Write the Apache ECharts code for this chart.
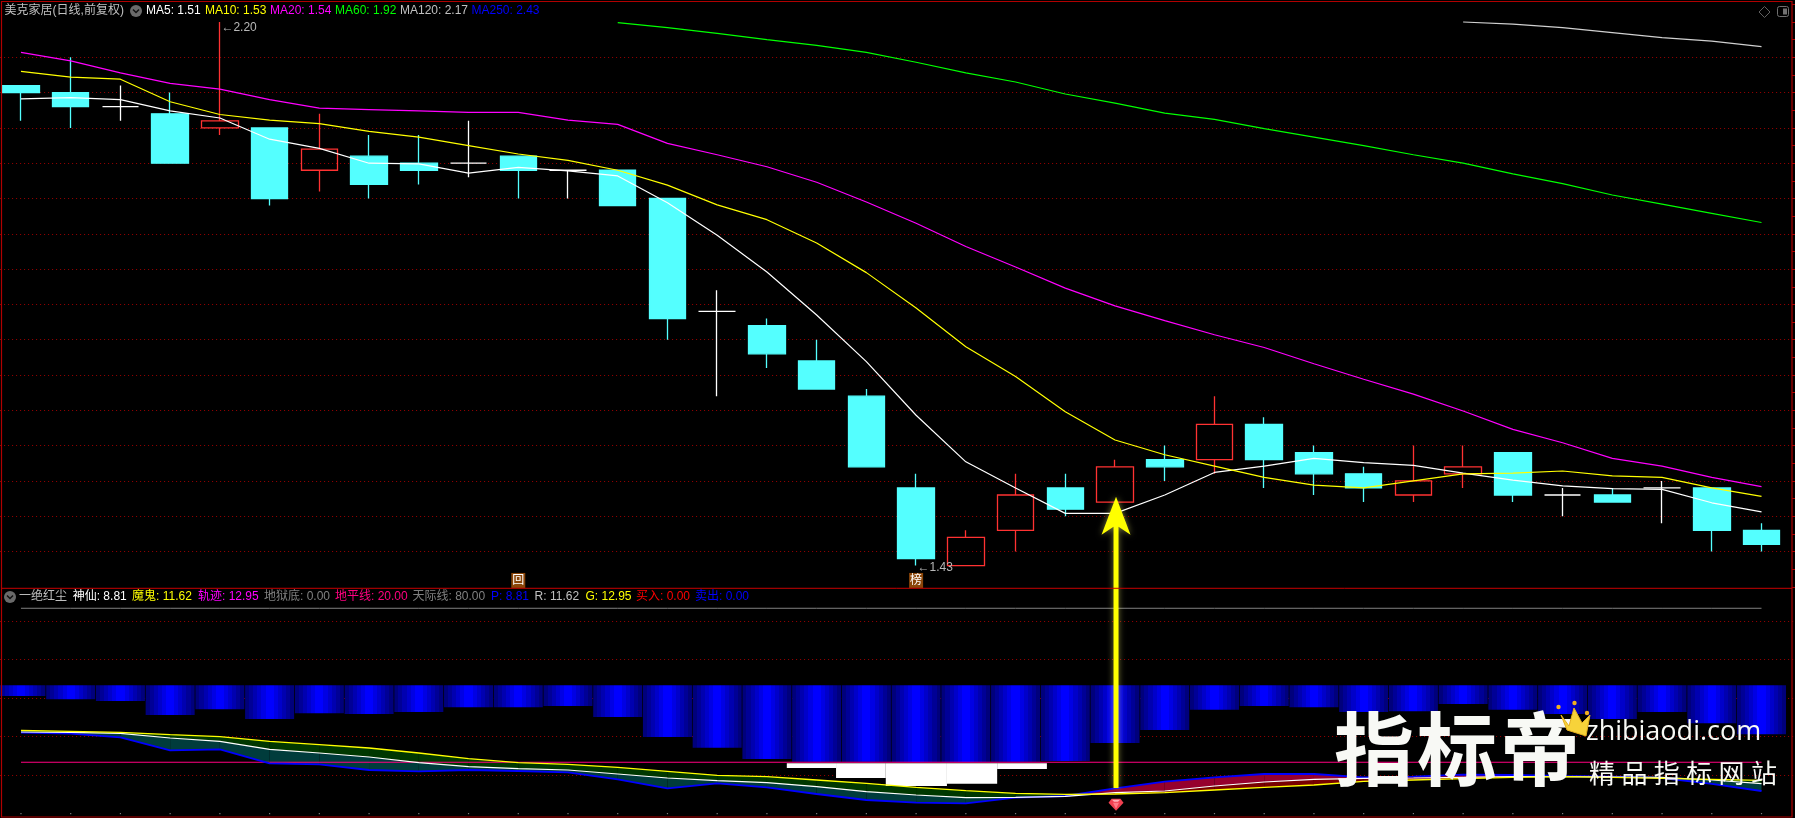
<!DOCTYPE html>
<html>
<head>
<meta charset="utf-8">
<style>html,body{margin:0;padding:0;background:#000}#c{width:1795px;height:818px}</style>
<script src="https://cdn.jsdelivr.net/npm/echarts@6/dist/echarts.min.js"></script>
</head>
<body>
<div id="c"></div>
<script>
// ---------- data ----------
const categories = ['D01','D02','D03','D04','D05','D06','D07','D08','D09','D10','D11','D12','D13','D14','D15','D16','D17','D18','D19','D20','D21','D22','D23','D24','D25','D26','D27','D28','D29','D30','D31','D32','D33','D34','D35','D36',''];
const opens  = [2.11,2.10,2.08,2.07,2.05,2.05,1.99,2.01,2.00,2.00,2.01,1.99,1.99,1.95,1.79,1.77,1.72,1.67,1.54,1.43,1.48,1.54,1.52,1.58,1.58,1.63,1.59,1.56,1.53,1.56,1.59,1.53,1.53,1.54,1.54,1.48];
const closes = [2.10,2.08,2.08,2.00,2.06,1.95,2.02,1.97,1.99,2.00,1.99,1.99,1.94,1.78,1.79,1.73,1.68,1.57,1.44,1.47,1.53,1.51,1.57,1.57,1.63,1.58,1.56,1.54,1.55,1.57,1.53,1.53,1.52,1.54,1.48,1.46];
const lows   = [2.06,2.05,2.06,2.00,2.04,1.94,1.96,1.95,1.97,1.98,1.95,1.95,1.94,1.75,1.67,1.71,1.68,1.57,1.43,1.43,1.45,1.50,1.52,1.55,1.56,1.54,1.53,1.52,1.52,1.54,1.52,1.50,1.52,1.49,1.45,1.45];
const highs  = [2.11,2.15,2.11,2.10,2.20,2.05,2.07,2.04,2.04,2.06,2.01,1.99,1.99,1.95,1.82,1.78,1.75,1.68,1.56,1.48,1.56,1.56,1.58,1.60,1.67,1.64,1.60,1.57,1.60,1.60,1.59,1.54,1.54,1.55,1.54,1.49];
const ma5  = [2.091,2.093,2.090,2.074,2.064,2.034,2.021,2.000,1.999,1.986,1.994,1.989,1.982,1.944,1.898,1.846,1.785,1.719,1.643,1.577,1.540,1.504,1.504,1.530,1.562,1.571,1.582,1.576,1.572,1.561,1.551,1.543,1.539,1.538,1.519,1.506];
const ma10 = [2.130,2.122,2.119,2.087,2.069,2.061,2.056,2.045,2.037,2.025,2.013,2.004,1.990,1.969,1.941,1.920,1.887,1.845,1.795,1.740,1.698,1.648,1.608,1.587,1.571,1.555,1.544,1.540,1.550,1.560,1.561,1.564,1.557,1.555,1.540,1.528];
const ma20 = [2.157,2.145,2.128,2.113,2.105,2.090,2.078,2.076,2.074,2.072,2.072,2.061,2.055,2.028,2.012,1.995,1.973,1.945,1.915,1.882,1.853,1.823,1.798,1.777,1.757,1.739,1.716,1.694,1.673,1.649,1.623,1.604,1.582,1.571,1.555,1.542];
const ma60 = [null,null,null,null,null,null,null,null,null,null,null,null,2.199,2.192,2.184,2.175,2.167,2.157,2.143,2.128,2.115,2.098,2.085,2.071,2.062,2.049,2.037,2.025,2.012,2.000,1.985,1.971,1.955,1.942,1.929,1.916];
const ma120 = [null,null,null,null,null,null,null,null,null,null,null,null,null,null,null,null,null,null,null,null,null,null,null,null,null,null,null,null,null,2.200,2.197,2.192,2.185,2.178,2.173,2.165];
const blueBottom = [45.8,44.6,43.9,38.4,40.7,36.9,39.1,38.8,39.6,41.4,41.4,41.9,37.6,29.8,25.7,21.3,20.2,20.2,20.1,20.1,20.2,20.5,27.5,32.6,40.5,41.9,41.4,39.6,39.9,42.7,40.5,38.8,36.9,39.6,35.2,30.9];
const lineG = [32.44,32.05,31.66,30.75,29.98,28.16,26.86,25.56,23.61,21.40,19.85,19.20,18.03,16.47,14.91,14.39,13.09,11.79,10.24,8.94,7.90,7.51,7.64,8.16,9.20,10.24,11.15,12.57,13.09,13.61,14.13,14.39,14.13,13.74,13.35,12.96];
const lineR = [31.79,31.66,31.27,29.46,28.16,25.04,23.61,22.05,19.85,18.29,17.51,16.99,15.43,13.87,12.84,12.06,10.50,8.55,7.25,6.21,6.34,6.73,8.16,8.81,10.76,12.32,13.35,13.74,13.87,14.13,14.39,14.39,14.26,14.13,13.09,11.67];
const lineP = [31.53,31.14,29.72,24.65,25.04,19.59,19.20,16.99,16.47,16.99,16.60,16.08,13.35,9.85,11.79,10.24,7.64,5.30,4.26,4.01,6.21,6.86,9.85,12.44,14.13,15.43,15.43,14.13,14.39,15.17,15.04,14.65,14.39,13.87,11.54,8.81];
const horizon = Array(36).fill(20);
const skyline = Array(36).fill(80);
const hellLine = Array(36).fill(0);
// white blocks: [from candle position, to candle position, lower value]
const whiteBlocks = [[15.40,16.39,17.76],[16.39,17.39,13.87],[17.39,18.62,10.75],[18.62,19.63,11.6],[19.63,20.63,17.37]];
const priceGrid = [1.45,1.50,1.55,1.60,1.65,1.70,1.75,1.80,1.85,1.90,1.95,2.00,2.05,2.10,2.15];
const indicatorGrid = [15,30,45,60,75];
const legendTop = [
  ['MA5: 1.51',146,'#ffffff'],['MA10: 1.53',205,'#ffff00'],['MA20: 1.54',270,'#ff00ff'],
  ['MA60: 1.92',335,'#00ff00'],['MA120: 2.17',400,'#c0c0c0'],['MA250: 2.43',471.5,'#0000ff']];
const legendBottom = [
  ['神仙: 8.81',72.7,'#ffffff'],['魔鬼: 11.62',132,'#ffff00'],['轨迹: 12.95',198,'#ff00ff'],
  ['地狱底: 0.00',264,'#808080'],['地平线: 20.00',335,'#ff0080'],['天际线: 80.00',412.5,'#808080'],
  ['P: 8.81',491,'#0000ff'],['R: 11.62',534.6,'#c0c0c0'],['G: 12.95',585.5,'#ffff00'],
  ['买入: 0.00',636,'#ff0000'],['卖出: 0.00',695,'#0000ff']];
const arrowSpec = [[22,1.5276,1.115]];
const gemSpec = [[22,3.4]];

// ---------- styling ----------
const FONT = '"Liberation Sans","Noto Sans CJK SC",sans-serif';
const RED = '#ff3232', CYAN = '#54ffff', GRID = '#9c0000', BORDER = '#b00000';
const dotted = {show:true, lineStyle:{color:GRID, width:1, type:[1,3]}};

const stepStops = (function(){
  const shades = ['#00007c','#000096','#0000b0','#0000ca','#0000e4','#0000ff','#0000ff','#0000e4','#0000ca','#0000b0','#000096','#00007c'];
  const out = [];
  shades.forEach(function(c,i){
    out.push({offset:i/shades.length,color:c});
    out.push({offset:(i+1)/shades.length,color:c});
  });
  return out;
})();

function thinLine(name, data, color, grid, width, z){
  return {name:name,type:'line',data:data,xAxisIndex:grid,yAxisIndex:grid===0?0:2,symbol:'none',silent:true,
    lineStyle:{color:color,width:width||1.2},z:z||5,connectNulls:false};
}
function txt(t,x,y,color,size,extra){
  return Object.assign({type:'text',x:x,y:y,z:50,silent:true,
    style:Object.assign({text:t,fill:color,font:(size||12)+'px '+FONT,textVerticalAlign:'middle'},extra||{})},{});
}
function chevronIcon(cx,cy){
  return {type:'group',z:50,silent:true,children:[
    {type:'circle',shape:{cx:cx,cy:cy,r:6},style:{fill:'#6a6a6a'}},
    {type:'polyline',shape:{points:[[cx-3,cy-1.5],[cx,cy+1.5],[cx+3,cy-1.5]]},style:{stroke:'#111',lineWidth:1.5,fill:null}}
  ]};
}
function badgePoint(cat,price,text){
  return {coord:[cat,price],symbol:'circle',symbolSize:1,itemStyle:{color:'rgba(0,0,0,0)'},
    label:{show:true,position:'inside',formatter:text,color:'#ffffff',fontSize:12,lineHeight:13,backgroundColor:'#8a4508',padding:[1,1],fontFamily:FONT}};
}
function extremePoint(cat,price,text,dy){
  return {coord:[cat,price],symbol:'circle',symbolSize:1,itemStyle:{color:'rgba(0,0,0,0)'},
    label:{show:true,position:'right',distance:1,formatter:text,color:'#b8b8b8',fontSize:12,fontFamily:FONT,offset:[0,dy]}};
}

const graphics = [
  {type:'rect',z:60,silent:true,shape:{x:1.5,y:1.5,width:1790.5,height:815.5},style:{fill:null,stroke:BORDER,lineWidth:1.2}},
  {type:'line',z:60,silent:true,shape:{x1:1.5,y1:588.3,x2:1792,y2:588.3},style:{stroke:'#c80000',lineWidth:1}},
  txt('美克家居(日线,前复权)',4.6,11,'#c0c0c0',12),
  chevronIcon(136,11),
  txt('一绝红尘',19,597,'#c0c0c0',12),
  chevronIcon(10,597),
  {type:'polygon',z:50,silent:true,shape:{points:[[1764.5,6.5],[1770,12],[1764.5,17.5],[1759,12]]},style:{fill:null,stroke:'#606060',lineWidth:1}},
  {type:'rect',z:50,silent:true,shape:{x:1777.5,y:6.5,width:11,height:10,r:2},style:{fill:null,stroke:'#707070',lineWidth:1}},
  {type:'rect',z:50,silent:true,shape:{x:1783,y:8.5,width:4,height:6},style:{fill:'#707070'}}
];
legendTop.forEach(function(e){graphics.push(txt(e[0],e[1],11,e[2],12));});
legendBottom.forEach(function(e){graphics.push(txt(e[0],e[1],597,e[2],12));});

// watermark
const wmShadow = {shadowBlur:6,shadowColor:'rgba(255,255,255,0.55)'};
['指','标','帝'].forEach(function(c,i){
  graphics.push({type:'text',z:70,silent:true,x:1334+i*83,y:749,
    style:Object.assign({text:c,fill:'#f8f9f5',font:'bold 80px "Noto Sans CJK SC",sans-serif',textVerticalAlign:'middle'},wmShadow)});
});
graphics.push({type:'text',z:70,silent:true,x:1586,y:732,
  style:Object.assign({text:'zhibiaodi.com',fill:'#f8f9f5',font:'27px "Open Sans",sans-serif',textVerticalAlign:'middle'},wmShadow)});
['精','品','指','标','网','站'].forEach(function(c,i){
  graphics.push({type:'text',z:70,silent:true,x:1589+i*32.4,y:773,
    style:Object.assign({text:c,fill:'#f8f9f5',font:'26px "Noto Sans CJK SC",sans-serif',textVerticalAlign:'middle'},wmShadow)});
});
graphics.push({type:'polygon',z:71,silent:true,shape:{points:[[1561,715],[1569,726],[1574,708],[1582,723],[1590,715],[1586,736],[1567,730]]},style:{fill:'#f7d33a',stroke:'#e5b020',lineWidth:1}});
[[1558.5,707],[1574.5,703],[1587,713]].forEach(function(p){
  graphics.push({type:'circle',z:71,silent:true,shape:{cx:p[0],cy:p[1],r:2.2},style:{fill:'#f0b020'}});
});

const option = {
  backgroundColor:'#000000',
  animation:false,
  tooltip:{show:false},
  legend:{show:false},
  grid:[
    {left:-3.9,width:49.73*37,top:-13.3,height:600.1,show:false,outerBoundsMode:'none',containLabel:false},
    {left:-3.9,width:49.73*37,top:582.6,height:231,show:false,outerBoundsMode:'none',containLabel:false}
  ],
  xAxis:[
    {type:'category',gridIndex:0,data:categories,show:false},
    {type:'category',gridIndex:1,data:categories,show:false}
  ],
  yAxis:[
    {type:'value',gridIndex:0,min:1.40,max:2.25,axisLabel:{show:false},axisLine:{show:false},
     axisTick:{show:false,customValues:priceGrid},splitLine:dotted},
    {type:'value',gridIndex:0,position:'right',offset:1792-(-3.9+49.73*37),min:1.40,max:2.25,interval:0.025,
     axisLabel:{show:false},axisLine:{show:false},splitLine:{show:false},
     axisTick:{show:true,length:3,lineStyle:{color:BORDER,width:1}}},
    {type:'value',gridIndex:1,min:0,max:90,axisLabel:{show:false},axisLine:{show:false},
     axisTick:{show:false,customValues:indicatorGrid},splitLine:dotted}
  ],
  graphic:{elements:graphics},
  series:[
    {name:'K',type:'candlestick',xAxisIndex:0,yAxisIndex:0,barWidth:37,silent:true,z:3,
     data:opens.map(function(o,i){return [o,closes[i],lows[i],highs[i]];}),
     itemStyle:{color:'rgba(0,0,0,0)',color0:CYAN,borderColor:RED,borderColor0:CYAN,borderColorDoji:'#ffffff',borderWidth:1.3},
     markPoint:{silent:true,z:8,data:[
       extremePoint('D05',2.20,'←2.20',6),
       extremePoint('D19',1.43,'←1.43',2),
       badgePoint('D11',1.409,'回'),
       badgePoint('D19',1.409,'榜')
     ]}
    },
    thinLine('MA5',ma5,'#ffffff',0),
    thinLine('MA10',ma10,'#ffff00',0),
    thinLine('MA20',ma20,'#ff00ff',0),
    thinLine('MA60',ma60,'#00ff00',0),
    thinLine('MA120',ma120,'#d0d0d0',0),
    // blue columns, hanging from 50 on the indicator scale
    {name:'柱',type:'custom',xAxisIndex:1,yAxisIndex:2,z:2,silent:true,
     data:blueBottom.map(function(v,i){return [i,v];}),
     renderItem:function(params,api){
       const a=api.coord([api.value(0),50]), b=api.coord([api.value(0),api.value(1)]);
       return {type:'rect',shape:{x:a[0]-24.5,y:a[1],width:49,height:b[1]-a[1]},
         style:{fill:new echarts.graphic.LinearGradient(0,0,1,0,stepStops)}};
     }},
    // bands between the three indicator lines
    {name:'带',type:'custom',xAxisIndex:1,yAxisIndex:2,z:3,silent:true,
     data:lineP.slice(0,-1).map(function(p,i){return [i,p,lineR[i],lineG[i],lineP[i+1],lineR[i+1],lineG[i+1]];}),
     renderItem:function(params,api){
       const i=api.value(0), p0=api.value(1), r0=api.value(2), g0=api.value(3), p1=api.value(4), r1=api.value(5), g1=api.value(6);
       const bullish=(p0+p1)>(r0+r1);
       const pts=function(a0,a1,b0,b1){return [api.coord([i,a0]),api.coord([i+1,a1]),api.coord([i+1,b1]),api.coord([i,b0])];};
       return {type:'group',children:[
         {type:'polygon',shape:{points:pts(p0,p1,r0,r1)},style:{fill:bullish?'#96002d':'#003c3c'}},
         {type:'polygon',shape:{points:pts(r0,r1,g0,g1)},style:{fill:bullish?'#780000':'#003800'}}
       ]};
     }},
    // white blocks below the horizon line
    {name:'块',type:'custom',xAxisIndex:1,yAxisIndex:2,z:4,silent:true,data:whiteBlocks,
     renderItem:function(params,api){
       const step=api.size([1,0])[0], x0=api.coord([0,20]);
       const l=x0[0]+api.value(0)*step, r=x0[0]+api.value(1)*step, y=api.coord([0,api.value(2)])[1];
       return {type:'rect',shape:{x:l,y:x0[1]+1,width:r-l,height:y-x0[1]-1},style:{fill:'#ffffff'}};
     }},
    thinLine('地平线',horizon,'#ff0080',1,1.2,6),
    thinLine('天际线',skyline,'#808080',1,1,6),
    thinLine('P',lineP,'#0000ff',1,1.8,7),
    thinLine('R',lineR,'#ffffff',1,1.2,8),
    thinLine('G',lineG,'#ffff00',1,1.3,8),
    {name:'地狱底',type:'scatter',xAxisIndex:1,yAxisIndex:2,symbol:'rect',symbolSize:1.2,silent:true,z:6,
     itemStyle:{color:'#9a9a9a'},data:hellLine.map(function(v,i){return [i,v];})},
    // yellow signal arrow
    {name:'箭头',type:'custom',xAxisIndex:0,yAxisIndex:0,z:30,silent:true,clip:false,data:arrowSpec,
     renderItem:function(params,api){
       const tip=api.coord([api.value(0),api.value(1)]), tail=api.coord([api.value(0),api.value(2)]);
       const x=tip[0]+1, y=tip[1];
       return {type:'polygon',z2:90,shape:{points:[[x,y],[x+14.5,y+38],[x+2.5,y+30],[x+2.5,tail[1]],[x-2.5,tail[1]],[x-2.5,y+30],[x-14.5,y+38]]},
         style:{fill:'#ffff00',shadowBlur:6,shadowColor:'rgba(255,255,120,0.5)'}};
     }},
    {name:'钻石',type:'custom',xAxisIndex:1,yAxisIndex:2,z:30,silent:true,clip:false,data:gemSpec,
     renderItem:function(params,api){
       const c=api.coord([api.value(0),api.value(1)]), x=c[0]+1, y=c[1];
       return {type:'group',children:[
         {type:'polygon',shape:{points:[[x-4.5,y-6],[x+4.5,y-6],[x+7.5,y-2],[x,y+6],[x-7.5,y-2]]},style:{fill:'#f04050'}},
         {type:'polygon',shape:{points:[[x-3,y-2],[x+3,y-2],[x,y+4]]},style:{fill:'#ff7a86'}},
         {type:'polygon',shape:{points:[[x-4,y-5],[x+4,y-5],[x+2,y-3.2],[x-2,y-3.2]]},style:{fill:'#ffb0b8'}}
       ]};
     }}
  ]
};
const chart = echarts.init(document.getElementById('c'),null,{renderer:'canvas'});
chart.setOption(option);
</script>
</body>
</html>
